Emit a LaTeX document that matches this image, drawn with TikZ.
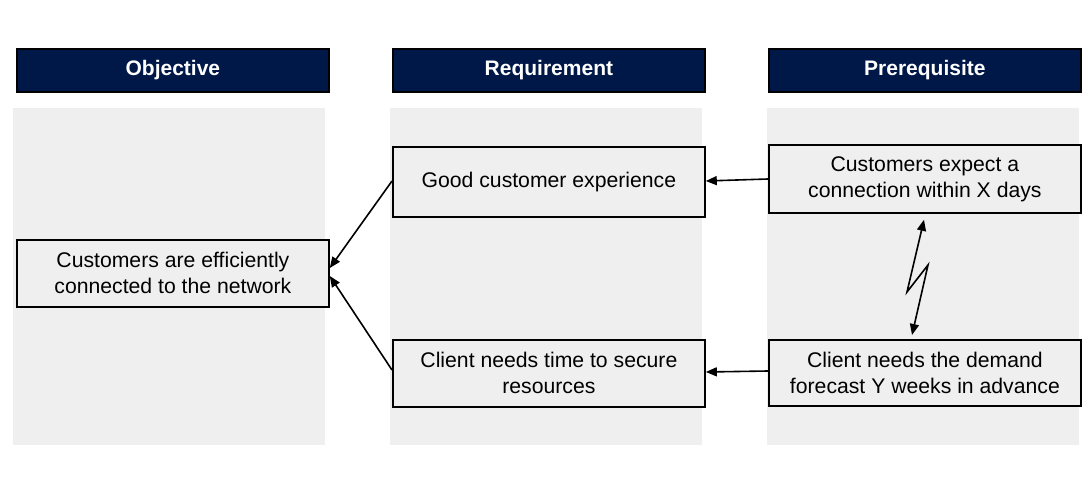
\documentclass[tikz,border=0pt]{standalone}
\usepackage{fontspec}
\setmainfont{Liberation Sans}
\usetikzlibrary{arrows.meta,calc}
\definecolor{navy}{RGB}{0,24,72}
\definecolor{colgray}{RGB}{239,239,239}
\definecolor{boxgray}{RGB}{239,239,239}
\begin{document}
\begin{tikzpicture}[x=1pt,y=-1pt,
  header/.style={draw=black,line width=1.8pt,fill=navy,text=white,font=\fontsize{21}{25}\selectfont\bfseries,inner sep=0pt,anchor=north west},
  column/.style={fill=colgray,draw=none,inner sep=0pt,anchor=north west},
  itembox/.style={draw=black,line width=1.8pt,fill=boxgray,font=\fontsize{21.2}{26}\selectfont,align=center,inner sep=0pt,anchor=north west},
  conn/.style={line width=1.6pt,-{Triangle[length=11pt,width=9pt]}},
  conn2/.style={line width=1.6pt,{Triangle[length=11pt,width=9pt]}-{Triangle[length=11pt,width=9pt]}}]
\useasboundingbox (0,0) rectangle (1092,502);
\fill[white] (0,0) rectangle (1092,502);
% columns
\node[column,minimum width=312pt,minimum height=337pt] (c1) at (13,108) {};
\node[column,minimum width=312pt,minimum height=337pt] (c2) at (390,108) {};
\node[column,minimum width=312pt,minimum height=337pt] (c3) at (767,108) {};
% headers
\node[header,minimum width=312pt,minimum height=43pt] (h1) at (16,48) {Objective};
\node[header,minimum width=312pt,minimum height=43pt] (h2) at (392,48) {Requirement};
\node[header,minimum width=312pt,minimum height=43pt] (h3) at (768,48) {Prerequisite};
% boxes
\node[itembox,minimum width=312pt,minimum height=67pt] (obj) at (16,239) {Customers are efficiently\\connected to the network};
\node[itembox,minimum width=312pt,minimum height=70pt] (good) at (392,146) {Good customer experience};
\node[itembox,minimum width=312pt,minimum height=67pt] (time) at (392,339) {Client needs time to secure\\resources};
\node[itembox,minimum width=312pt,minimum height=68pt] (expect) at (768,144) {Customers expect a\\connection within X days};
\node[itembox,minimum width=312pt,minimum height=66pt] (demand) at (768,339) {Client needs the demand\\forecast Y weeks in advance};
% connectors
\draw[conn] (good.west |- 0,181) -- (obj.east |- 0,268);
\draw[conn] (time.west |- 0,370) -- (obj.east |- 0,276);
\draw[conn] (expect.west |- 0,179) -- (good.east |- 0,181);
\draw[conn] (demand.west |- 0,371) -- (time.east |- 0,372);
\coordinate (za) at (907,292);
\coordinate (zb) at (928,265);
\draw[conn2] ($(expect.south -| 924,0)+(0,6)$) -- (za) -- (zb) -- ($(demand.north -| 912,0)+(0,-4)$);
\end{tikzpicture}
\end{document}
